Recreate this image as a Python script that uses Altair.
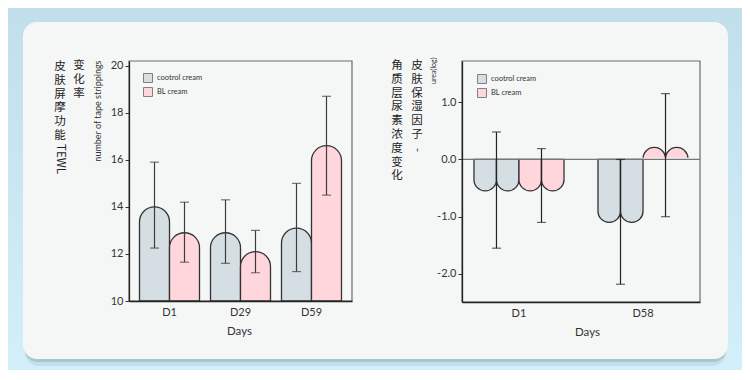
import altair as alt
import pandas as pd

# ---------------- data ----------------
series_names = ["cootrol cream", "BL cream"]
series_colors = ["#d5dfe3", "#ffd6dc"]

left_days = ["D1", "D29", "D59"]
left_control = [14.0, 12.9, 13.1]
left_bl = [12.9, 12.1, 16.6]
left_control_lo = [12.25, 11.6, 11.25]
left_control_hi = [15.9, 14.3, 15.0]
left_bl_lo = [11.65, 11.2, 14.5]
left_bl_hi = [14.2, 13.0, 18.7]
left_y_ticks = [10, 12, 14, 16, 18, 20]

right_days = ["D1", "D58"]
right_control = [-0.55, -1.1]
right_bl = [-0.55, 0.21]
right_control_lo = [-1.55, -2.18]
right_control_hi = [0.48, 0.0]
right_bl_lo = [-1.1, -1.0]
right_bl_hi = [0.19, 1.15]
right_y_ticks = [1.0, 0.0, -1.0, -2.0]
lobes = ["a", "b"]

left_title_cols = ["皮肤屏摩功能", "变化率"]
left_title_latin = "TEWL"
left_axis_title = "number of tape strippings"
right_title_cols = ["角质层尿素浓度变化", "皮肤保湿因子"]
right_title_dash = "-"
right_axis_title = "urea(log)"
x_title = "Days"

# ---------------- tables ----------------
left_rows = []
for i, d in enumerate(left_days):
    left_rows.append(dict(day=d, series=series_names[0], value=left_control[i],
                          lo=left_control_lo[i], hi=left_control_hi[i]))
    left_rows.append(dict(day=d, series=series_names[1], value=left_bl[i],
                          lo=left_bl_lo[i], hi=left_bl_hi[i]))
left_df = pd.DataFrame(left_rows)

sub_order = [f"{s} {l}" for s in series_names for l in lobes]
right_bar_rows, right_err_rows = [], []
for i, d in enumerate(right_days):
    for s, v, lo, hi in [(series_names[0], right_control[i], right_control_lo[i], right_control_hi[i]),
                         (series_names[1], right_bl[i], right_bl_lo[i], right_bl_hi[i])]:
        for l in lobes:
            right_bar_rows.append(dict(day=d, series=s, sub=f"{s} {l}", value=v))
        right_err_rows.append(dict(day=d, series=s, lo=lo, hi=hi))
right_bar_df = pd.DataFrame(right_bar_rows)
right_err_df = pd.DataFrame(right_err_rows)

one = pd.DataFrame({"k": [0]})

W1, H1 = 223, 240
W2, H2 = 238, 241
LAT = "Lato"
CJK = "Noto Sans CJK SC"
CARD = "#f5f7f7"

# ---------------- shared pieces ----------------
def color_enc(lx, ly):
    return alt.Color("series:N", sort=series_names,
                     scale=alt.Scale(domain=series_names, range=series_colors),
                     legend=alt.Legend(orient="none", legendX=lx, legendY=ly, title=None,
                                       symbolType="square", symbolSize=81,
                                       symbolStrokeColor="#808080", symbolStrokeWidth=1,
                                       labelFont=LAT, labelFontSize=7.5, labelColor="#333",
                                       rowPadding=0, labelOffset=4, padding=0))

def x_axis(title_x):
    return alt.Axis(title=x_title, ticks=False, labelAngle=0, labelPadding=5,
                    labelFontSize=11, titleFontSize=11.5, titlePadding=8,
                    titleFontWeight="normal", zindex=2, titleX=title_x)

def x_left():
    return alt.X("day:N", sort=left_days, title=x_title,
                 scale=alt.Scale(paddingInner=0.155, paddingOuter=0.148), axis=x_axis(110))

def x_right():
    return alt.X("day:N", sort=right_days, title=x_title,
                 scale=alt.Scale(paddingInner=0.274, paddingOuter=0.0965), axis=x_axis(125))

def left_y_axis():
    return alt.Axis(values=left_y_ticks, title=left_axis_title, grid=False,
                    titleFontSize=9, titleAngle=270, titleAlign="right",
                    titleBaseline="middle", titleX=-32, titleY=-1,
                    titleFontWeight="normal", labelPadding=2, zindex=2)

def y_left(field):
    return alt.Y(field, title=left_axis_title,
                 scale=alt.Scale(domain=[10, 20.2], zero=False, nice=False),
                 axis=left_y_axis())

def right_y_axis():
    return alt.Axis(values=right_y_ticks, title=right_axis_title, grid=False,
                    labelExpr="(datum.value < 0 ? '-' : '') + format(abs(datum.value), '.1f')",
                    titleFontSize=7, titleAngle=270, titleAlign="right",
                    titleBaseline="middle", titleX=-29, titleY=-4,
                    titleFontWeight="normal", labelPadding=2, zindex=2)

def y_right(field):
    return alt.Y(field, title=right_axis_title,
                 scale=alt.Scale(domain=[-2.49, 1.72], zero=False, nice=False),
                 axis=right_y_axis())

def frame(w, h):
    return alt.Chart(one).mark_rect(fillOpacity=0, stroke="#6b6b6b", strokeWidth=1.2).encode(
        x=alt.value(0), x2=alt.value(w), y=alt.value(0), y2=alt.value(h))

def vtext(text, x, y, angle=0, align="center", baseline="top"):
    return alt.Chart(pd.DataFrame({"t": [text]})).mark_text(
        font=CJK, fontSize=11.5, color="#222", lineBreak="\n", lineHeight=13.8,
        align=align, baseline=baseline, angle=angle).encode(
        text="t:N", x=alt.value(x), y=alt.value(y))

# ---------------- backdrop (drawn in the left panel, spans whole canvas) ----------------
grad = alt.LinearGradient(gradient="linear",
                          stops=[alt.GradientStop(color="#c1dfea", offset=0),
                                 alt.GradientStop(color="#d2effa", offset=1)],
                          x1=0, x2=0, y1=0, y2=1)
bg = alt.Chart(one).mark_rect(fill=grad).encode(
    x=alt.value(-121), x2=alt.value(613), y=alt.value(-53), y2=alt.value(309))
shadow1 = alt.Chart(one).mark_rect(fill="#6d8a96", opacity=0.15, cornerRadius=14).encode(
    x=alt.value(-104), x2=alt.value(597), y=alt.value(-35), y2=alt.value(305))
shadow2 = alt.Chart(one).mark_rect(fill="#6d8a96", opacity=0.3, cornerRadius=14).encode(
    x=alt.value(-105), x2=alt.value(598), y=alt.value(-37), y2=alt.value(301))
card = alt.Chart(one).mark_rect(fill=CARD, cornerRadius=14).encode(
    x=alt.value(-106), x2=alt.value(599), y=alt.value(-39), y2=alt.value(298))

# ---------------- left panel ----------------
lbase = alt.Chart(left_df)
l_xoff = alt.XOffset("series:N", sort=series_names,
                     scale=alt.Scale(domain=series_names, paddingInner=0, paddingOuter=0))
l_bars = lbase.mark_bar(cornerRadiusTopLeft=15, cornerRadiusTopRight=15,
                        stroke="#333", strokeWidth=1.3).encode(
    x=x_left(), xOffset=l_xoff, y=y_left("value:Q"), y2=alt.datum(10),
    color=color_enc(14, 12))
l_rule = lbase.mark_rule(color="#3c3c3c", strokeWidth=1.2).encode(
    x=x_left(), xOffset=l_xoff, y=y_left("lo:Q"), y2="hi:Q")
l_caps = lbase.transform_fold(["lo", "hi"], as_=["end", "v"]).mark_tick(
    color="#3c3c3c", size=9, thickness=1.2).encode(
    x=x_left(), xOffset=l_xoff, y=y_left("v:Q"))

left = alt.layer(
    bg, shadow2, shadow1, card, frame(W1, H1), l_bars, l_rule, l_caps,
    vtext("\n".join(left_title_cols[0]), -69, 0),
    vtext(left_title_latin, -69, 83, angle=90, align="left", baseline="middle"),
    vtext("\n".join(left_title_cols[1]), -50, -1),
).properties(width=W1, height=H1)

# ---------------- right panel ----------------
r_sub = alt.XOffset("sub:N", sort=sub_order,
                    scale=alt.Scale(domain=sub_order, paddingInner=0, paddingOuter=0))
r_ser = alt.XOffset("series:N", sort=series_names,
                    scale=alt.Scale(domain=series_names, paddingInner=0, paddingOuter=0))
zero_line = alt.Chart(pd.DataFrame({"z": [0.0]})).mark_rule(color="#777", strokeWidth=1.3).encode(
    y=y_right("z:Q"))
rb = alt.Chart(right_bar_df)
r_neg = rb.transform_filter("datum.value < 0").mark_bar(
    cornerRadiusBottomLeft=11.25, cornerRadiusBottomRight=11.25,
    stroke="#333", strokeWidth=1.3).encode(
    x=x_right(), xOffset=r_sub, y=y_right("value:Q"), y2=alt.datum(0),
    color=color_enc(15, 13))
# small positive lobes: drawn from below the baseline so the dome can be fully round,
# then the part under the baseline is hidden with card-coloured bars
r_pos = rb.transform_filter("datum.value >= 0").mark_bar(
    cornerRadiusTopLeft=11.25, cornerRadiusTopRight=11.25,
    stroke="#333", strokeWidth=1.3).encode(
    x=x_right(), xOffset=r_sub, y=y_right("value:Q"), y2=alt.datum(-0.3),
    color=color_enc(15, 13))
r_mask = rb.transform_filter("datum.value >= 0").transform_calculate(zero_top="0").mark_bar(
    fill=CARD, stroke=CARD, strokeWidth=3.5).encode(
    x=x_right(), xOffset=r_sub, y=y_right("zero_top:Q"), y2=alt.datum(-0.34))
re_ = alt.Chart(right_err_df)
r_rule = re_.mark_rule(color="#222", strokeWidth=1.2).encode(
    x=x_right(), xOffset=r_ser, y=y_right("lo:Q"), y2="hi:Q")
r_caps = re_.transform_fold(["lo", "hi"], as_=["end", "v"]).mark_tick(
    color="#222", size=9, thickness=1.2).encode(
    x=x_right(), xOffset=r_ser, y=y_right("v:Q"))

right = alt.layer(
    frame(W2, H2), r_pos, r_mask, r_neg, zero_line, r_rule, r_caps,
    vtext("\n".join(right_title_cols[0]), -65, -1),
    vtext("\n".join(right_title_cols[1]), -45, -1),
    vtext(right_title_dash, -45, 89, angle=90, align="center", baseline="middle"),
).resolve_scale(xOffset="independent").properties(width=W2, height=H2)

chart = alt.hconcat(left, right, spacing=110, bounds="flush").resolve_scale(
    color="independent").resolve_legend(color="independent").properties(
    padding=0, background="#c9e7f2").configure_view(strokeWidth=0).configure_axis(
    domainColor="#222", domainWidth=1.3, tickColor="#333", tickSize=4, tickWidth=1,
    labelFont=LAT, labelFontSize=11, labelColor="#333", titleFont=LAT,
    titleColor="#333", grid=False)

chart.save("out.html", embed_options={"renderer": "svg", "actions": False})
